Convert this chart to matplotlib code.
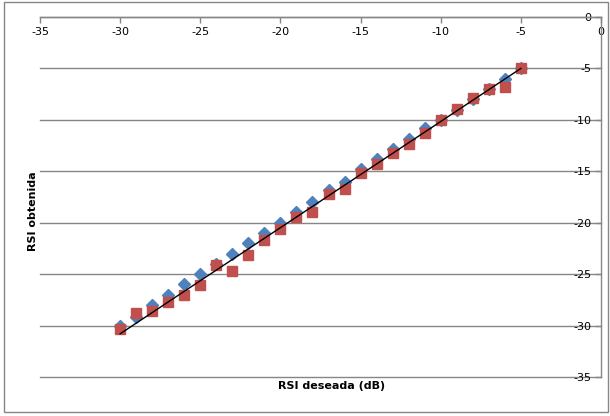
import matplotlib
matplotlib.use("Agg")
from matplotlib import pyplot as plt
from matplotlib.patches import Rectangle

# RSI deseada (dB), one point per integer value
rsi_deseada = [-30, -29, -28, -27, -26, -25, -24, -23, -22, -21, -20, -19, -18,
               -17, -16, -15, -14, -13, -12, -11, -10, -9, -8, -7, -6, -5]
# blue diamonds
rsi_azul = [-30.0, -29.2, -28.0, -27.0, -26.0, -25.0, -24.0, -23.0, -22.0, -21.0,
            -20.0, -19.0, -18.0, -16.8, -16.0, -14.8, -13.8, -12.8, -11.9, -10.8,
            -10.0, -9.0, -8.0, -7.0, -6.0, -5.0]
# red squares
rsi_rojo = [-30.3, -28.8, -28.6, -27.7, -27.0, -26.1, -24.1, -24.7, -23.1, -21.7,
            -20.6, -19.4, -19.0, -17.2, -16.7, -15.2, -14.3, -13.2, -12.3, -11.3,
            -10.0, -8.9, -7.9, -7.0, -6.8, -5.0]
# reference line
linea_x = [-30, -5]
linea_y = [-30.8, -5.0]

ticks = [-35, -30, -25, -20, -15, -10, -5, 0]

W, H, dpi = 610, 416, 100
fig = plt.figure(figsize=(W / dpi, H / dpi), dpi=dpi)
ax = fig.add_axes([40 / W, 1 - 377 / H, 561 / W, 360 / H])

ax.plot(rsi_deseada, rsi_azul, linestyle="none", marker="D", ms=6.5,
        color="#4F81BD", mec="#4F81BD", zorder=3)
ax.plot(rsi_deseada, rsi_rojo, linestyle="none", marker="s", ms=7.5,
        color="#C0504D", mec="#C0504D", zorder=4)
ax.plot(linea_x, linea_y, color="black", lw=1, zorder=5)

ax.set_xlim(-35, 0)
ax.set_ylim(-35, 0)
ax.set_xticks(ticks)
ax.set_yticks(ticks)
ax.set_xticklabels([str(t) for t in ticks])
ax.set_yticklabels([str(t) for t in ticks])

# axes cross at 0: x axis on top edge, y axis on right edge
ax.spines["bottom"].set_position(("data", 0))
ax.spines["left"].set_position(("data", 0))
ax.spines["top"].set_visible(False)
ax.spines["right"].set_visible(False)
for s in ("bottom", "left"):
    ax.spines[s].set_color("#868686")
    ax.spines[s].set_linewidth(1)
ax.tick_params(axis="both", direction="out", length=4, width=1, color="#868686",
               labelsize=8, pad=3)

ax.yaxis.grid(True, color="#868686", lw=1)
for gl in ax.yaxis.get_gridlines():
    gl.set_clip_on(False)
ax.xaxis.grid(False)
ax.set_axisbelow(True)

ax.set_xlabel("RSI deseada (dB)", fontsize=8, fontweight="bold")
ax.set_ylabel("RSI obtenida", fontsize=8, fontweight="bold")
ax.xaxis.set_label_coords(0.52, -0.012)
ax.yaxis.set_label_coords(-0.004, 0.46)

fig.patches.append(Rectangle((4 / W, 1 - 412 / H), 604 / W, 410 / H,
                             transform=fig.transFigure, fill=False,
                             edgecolor="#868686", lw=1))

fig.savefig("out.png", dpi=dpi)
